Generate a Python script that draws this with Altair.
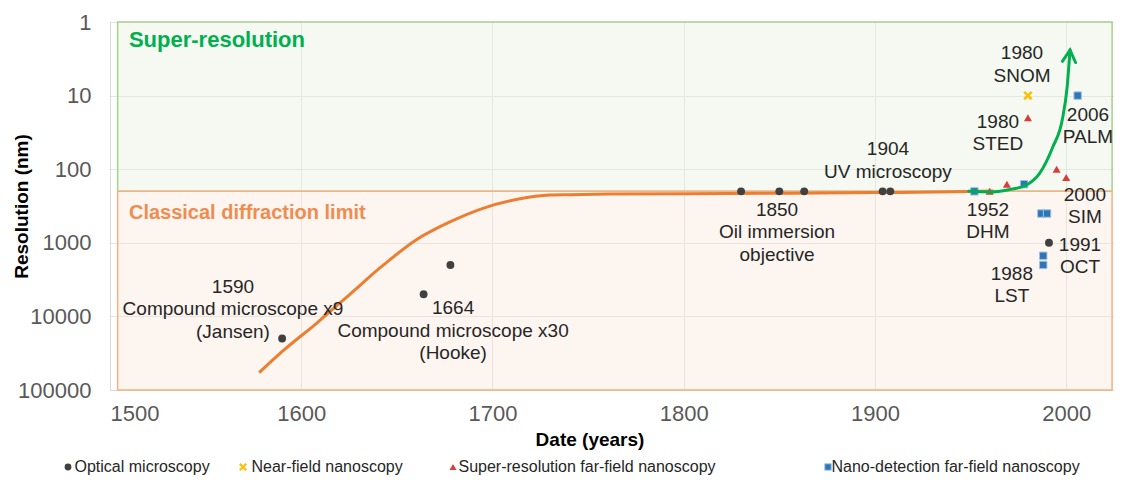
import altair as alt
import pandas as pd

FONT = "Liberation Sans"

# ---------------- data ----------------
opt_year = [1590, 1664, 1678, 1830, 1850, 1863, 1904, 1908, 1991]
opt_nm = [20000, 5000, 2000, 200, 200, 200, 200, 200, 1000]

nf_year = [1980]
nf_nm = [10]

sr_year = [1960, 1969, 1980, 1995, 2000]
sr_nm = [200, 160, 20, 100, 130]

nd_year = [1952, 1978, 1987, 1990, 1988, 1988, 2006]
nd_nm = [200, 160, 400, 400, 1500, 2000, 10]

trend_year = [1578, 1591, 1608, 1626, 1643, 1660, 1678, 1695, 1713, 1730, 1741,
              1760, 1800, 1850, 1900, 1940, 1962]
trend_nm = [58000, 28600, 12400, 4850, 2000, 916, 517, 340, 256, 224, 222,
            218, 215, 212, 208, 203, 198]

super_year = [1949, 1960, 1970, 1979, 1986, 1993, 1998, 2000.5, 2002]
super_nm = [200, 204, 190, 165, 115, 50, 21, 7.6, 2.4]

region_name = ["Super-resolution", "Classical diffraction limit"]
region_x1 = [1504, 1504]
region_x2 = [2024, 2024]
region_y1 = [1, 200]
region_y2 = [200, 100000]

ann_text = [
    "1590\nCompound microscope x9\n(Jansen)",
    "1664\nCompound microscope x30\n(Hooke)",
    "1850\nOil immersion\nobjective",
    "1904\nUV microscopy",
    "1952\nDHM",
    "1980\nSNOM",
    "1980\nSTED",
    "2006\nPALM",
    "2000\nSIM",
    "1991\nOCT",
    "1988\nLST",
]
ann_year = [1564.3, 1679.4, 1848.8, 1906.8, 1959.1, 1976.9, 1964.3, 2011.4, 2009.8, 2007.2, 1971.6]
ann_nm = [3986, 7690, 358, 53.2, 358, 2.64, 22.8, 18.3, 224, 1071, 2654]

x_ticks = [1500, 1600, 1700, 1800, 1900, 2000]
y_ticks = [1, 10, 100, 1000, 10000, 100000]

# ---------------- scales ----------------
xs = alt.Scale(domain=[1500, 2025], nice=False, zero=False)
ys = alt.Scale(type="log", domain=[1, 100000], reverse=True, nice=False)

x_axis = alt.Axis(values=x_ticks, format="d", title="Date (years)", ticks=False,
                  labelFont=FONT, labelFontSize=22, labelColor="#595959", labelPadding=13,
                  titleFont=FONT, titleFontSize=19, titleFontWeight="bold", titleColor="#000000",
                  titleX=479.5, titleY=49, titleBaseline="middle", titleAlign="center",
                  grid=True, gridColor="#E3E3E3", domainColor="#D9D9D9")
y_axis = alt.Axis(values=y_ticks, format="d", title="Resolution (nm)", ticks=False,
                  labelFont=FONT, labelFontSize=22, labelColor="#595959", labelPadding=19,
                  titleFont=FONT, titleFontSize=19, titleFontWeight="bold", titleColor="#000000",
                  titleX=-89, titleY=184, titleBaseline="middle", titleAlign="center", titleAngle=-90,
                  grid=True, gridColor="#E3E3E3", domainColor="#D9D9D9")

# ---------------- background regions ----------------
reg = pd.DataFrame({"name": region_name, "x1": region_x1, "x2": region_x2,
                    "y1": region_y1, "y2": region_y2})
green_reg = alt.Chart(reg[reg.name == "Super-resolution"]).mark_rect(
    fill="#E6F1DC", fillOpacity=0.4, stroke="#A9D18E", strokeWidth=1.5
).encode(x=alt.X("x1:Q", scale=xs, axis=x_axis), x2="x2", y=alt.Y("y1:Q", scale=ys, axis=y_axis), y2="y2")
orange_reg = alt.Chart(reg[reg.name != "Super-resolution"]).mark_rect(
    fill="#FBE5D6", fillOpacity=0.38, stroke="#F4B183", strokeWidth=1.5
).encode(x=alt.X("x1:Q", scale=xs), x2="x2", y=alt.Y("y1:Q", scale=ys), y2="y2")

# ---------------- curves ----------------
trend = alt.Chart(pd.DataFrame({"year": trend_year, "nm": trend_nm})).mark_line(
    color="#ED7D31", strokeWidth=3, interpolate="monotone"
).encode(x=alt.X("year:Q", scale=xs), y=alt.Y("nm:Q", scale=ys))

sup = alt.Chart(pd.DataFrame({"year": super_year, "nm": super_nm})).mark_line(
    color="#00B050", strokeWidth=3, interpolate="monotone", strokeCap="round"
).encode(x=alt.X("year:Q", scale=xs), y=alt.Y("nm:Q", scale=ys))

head = alt.Chart(pd.DataFrame({"year": super_year[-1:], "nm": super_nm[-1:]})).mark_point(
    shape="M-0.55,1L0,0L0.55,1", filled=False, size=576, strokeWidth=3, color="#00B050",
    opacity=1, angle=5, strokeJoin="miter", strokeCap="round"
).encode(x=alt.X("year:Q", scale=xs), y=alt.Y("nm:Q", scale=ys))

# ---------------- point series ----------------
XSHAPE = "M-1,-0.6L-0.6,-1L0,-0.4L0.6,-1L1,-0.6L0.4,0L1,0.6L0.6,1L0,0.4L-0.6,1L-1,0.6L-0.4,0Z"


def series(years, nms, name, col, shape, size, lx, loff, stroke=None):
    df = pd.DataFrame({"year": years, "nm": nms, "series": name})
    mk = dict(shape=shape, filled=True, size=size, opacity=1)
    leg = dict(orient="none", legendX=lx, legendY=437, title=None, symbolType=shape,
               symbolSize=size * 0.75, labelFont=FONT, labelFontSize=16, labelColor="#262626",
               labelLimit=500, labelOffset={"expr": str(loff)}, padding=0, symbolOpacity=1)
    if stroke:
        mk.update(stroke=stroke, strokeWidth=1)
        leg.update(symbolStrokeColor=stroke, symbolStrokeWidth=1)
    else:
        mk.update(strokeWidth=0)
        leg.update(symbolStrokeWidth=0)
    return alt.Chart(df).mark_point(**mk).encode(
        x=alt.X("year:Q", scale=xs), y=alt.Y("nm:Q", scale=ys),
        color=alt.Color("series:N", scale=alt.Scale(domain=[name], range=[col]),
                        legend=alt.Legend(**leg)),
    )


p_opt = series(opt_year, opt_nm, "Optical microscopy", "#404040", "circle", 62, -50, -1.5)
p_nf = series(nf_year, nf_nm, "Near-field nanoscopy", "#FFC000", XSHAPE, 85, 125, 0.5)
p_sr = series(sr_year, sr_nm, "Super-resolution far-field nanoscopy", "#D43F3A", "triangle-up", 65, 335, -2.5)
p_nd = series(nd_year, nd_nm, "Nano-detection far-field nanoscopy", "#2E75B6", "square", 55, 710, -4.5,
              stroke="#9DC3E6")

# ---------------- texts ----------------
ann = alt.Chart(pd.DataFrame({"year": ann_year, "nm": ann_nm, "label": ann_text})).mark_text(
    font=FONT, fontSize=19, color="#262626", align="center", baseline="middle",
    lineBreak="\n", lineHeight=22.5
).encode(x=alt.X("year:Q", scale=xs), y=alt.Y("nm:Q", scale=ys), text="label:N")

reg_lab = pd.DataFrame({"year": [1509.9, 1509.9], "nm": [1.756, 393.7], "label": region_name})
lab_sr = alt.Chart(reg_lab.iloc[[0]]).mark_text(
    font=FONT, fontSize=22, fontWeight="bold", color="#00B050", align="left", baseline="middle"
).encode(x=alt.X("year:Q", scale=xs), y=alt.Y("nm:Q", scale=ys), text="label:N")
lab_cl = alt.Chart(reg_lab.iloc[[1]]).mark_text(
    font=FONT, fontSize=20, fontWeight="bold", color="#F08C50", align="left", baseline="middle"
).encode(x=alt.X("year:Q", scale=xs), y=alt.Y("nm:Q", scale=ys), text="label:N")

chart = alt.layer(
    green_reg, orange_reg, trend, p_opt, p_nf, p_sr, p_nd, sup, head, ann, lab_sr, lab_cl
).resolve_scale(color="independent").properties(
    width=1004, height=368, autosize="none",
    padding={"left": 102, "top": 14, "right": 0, "bottom": 85},
).configure_view(stroke=None).configure(background="white")

chart.save("out.html", embed_options={"renderer": "svg", "actions": False})
